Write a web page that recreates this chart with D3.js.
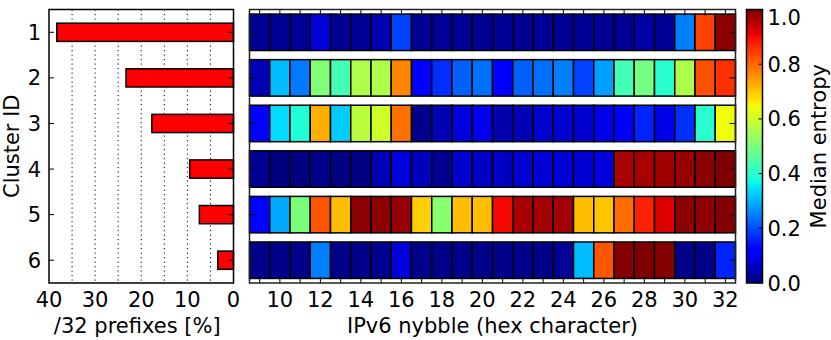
<!DOCTYPE html>
<html>
<head>
<meta charset="utf-8">
<script src="https://cdn.jsdelivr.net/npm/d3@7"></script>
<style>
  html, body { margin: 0; padding: 0; background: #fff; }
  svg { display: block; font-family: "DejaVu Sans", sans-serif; }
</style>
</head>
<body>
<svg id="chart" width="831" height="340"></svg>
<script>
// ---------------- data ----------------
const clusters = [1, 2, 3, 4, 5, 6];
const prefixShare = [38.3, 23.3, 17.7, 9.5, 7.4, 3.4];   // /32 prefixes [%]
const nybbles = [9, 10, 11, 12, 13, 14, 15, 16, 17, 18, 19, 20, 21, 22, 23, 24, 25, 26, 27, 28, 29, 30, 31, 32];
const entropyC1 = [0.02, 0.02, 0.02, 0.08, 0.02, 0.02, 0.045, 0.19, 0.02, 0.02, 0.02, 0.02, 0.02, 0.02, 0.02, 0.02, 0.02, 0.02, 0.02, 0.035, 0.02, 0.25, 0.84, 0.99];
const entropyC2 = [0.05, 0.31, 0.245, 0.505, 0.43, 0.56, 0.56, 0.767, 0.12, 0.17, 0.22, 0.235, 0.12, 0.22, 0.235, 0.25, 0.19, 0.28, 0.43, 0.49, 0.40, 0.56, 0.825, 0.86];
const entropyC3 = [0.115, 0.34, 0.39, 0.725, 0.325, 0.575, 0.60, 0.79, 0.01, 0.045, 0.08, 0.095, 0.04, 0.045, 0.07, 0.07, 0.07, 0.09, 0.105, 0.16, 0.09, 0.17, 0.40, 0.64];
const entropyC4 = [0.02, 0.0, 0.0, 0.01, 0.0, 0.005, 0.045, 0.08, 0.055, 0.015, 0.07, 0.06, 0.06, 0.07, 0.075, 0.075, 0.075, 0.08, 0.963, 0.965, 0.972, 0.979, 0.99, 1.0];
const entropyC5 = [0.115, 0.29, 0.50, 0.82, 0.71, 0.99, 0.99, 0.98, 0.69, 0.515, 0.71, 0.71, 0.90, 0.965, 0.968, 0.972, 0.71, 0.70, 0.795, 0.876, 0.92, 0.99, 0.985, 0.995];
const entropyC6 = [0.01, 0.01, 0.01, 0.25, 0.01, 0.01, 0.015, 0.08, 0.01, 0.01, 0.01, 0.01, 0.01, 0.01, 0.01, 0.02, 0.31, 0.82, 0.995, 1.0, 0.995, 0.01, 0.01, 0.16];
const entropyRows = [entropyC1, entropyC2, entropyC3, entropyC4, entropyC5, entropyC6];
const barTicks = [40, 30, 20, 10, 0];
const barGrid = [35, 30, 25, 20, 15, 10, 5];
const nybbleTicks = [10, 12, 14, 16, 18, 20, 22, 24, 26, 28, 30, 32];
const cbarTicks = [0.0, 0.2, 0.4, 0.6, 0.8, 1.0];

// ---------------- jet colormap ----------------
function interpSeg(segs, v) {
  for (let i = 0; i < segs.length - 1; i++) {
    const [x0, y0] = segs[i], [x1, y1] = segs[i + 1];
    if (v >= x0 && v <= x1) return y0 + (y1 - y0) * (v - x0) / (x1 - x0);
  }
  return segs[segs.length - 1][1];
}
const jetR = [[0, 0], [0.35, 0], [0.66, 1], [0.89, 1], [1, 0.5]];
const jetG = [[0, 0], [0.125, 0], [0.375, 1], [0.64, 1], [0.91, 0], [1, 0]];
const jetB = [[0, 0.5], [0.11, 1], [0.34, 1], [0.65, 0], [1, 0]];
function jet(v) {
  v = Math.max(0, Math.min(1, v));
  return d3.rgb(255 * interpSeg(jetR, v), 255 * interpSeg(jetG, v), 255 * interpSeg(jetB, v)).toString();
}

// ---------------- layout ----------------
const svg = d3.select("#chart");
const FS = 21;
const yTop = 9.5, yBot = 283;
const L = { x0: 49, x1: 233.5 };
const H = { x0: 249.5, x1: 735.5 };
const C = { x0: 746.5, x1: 762.5 };

const y = d3.scaleLinear().domain([0.5, 6.5]).range([yTop, yBot]);
const band = y(2) - y(1);
const xBar = d3.scaleLinear().domain([40, 0]).range([L.x0, L.x1]);
const xHeat = d3.scaleLinear().domain([8.5, 32.5]).range([H.x0, H.x1]);
const colW = xHeat(1) - xHeat(0);
const yC = d3.scaleLinear().domain([0, 1]).range([yBot, yTop]);

// ---------------- left bar chart ----------------
const gL = svg.append("g");
gL.selectAll("line.grid").data(barGrid).join("line")
  .attr("x1", d => xBar(d)).attr("x2", d => xBar(d))
  .attr("y1", yTop).attr("y2", yBot)
  .attr("stroke", "#000").attr("stroke-width", 1).attr("stroke-dasharray", "1.2,3.3");
gL.selectAll("rect.bar").data(clusters).join("rect")
  .attr("x", (d, i) => xBar(prefixShare[i]))
  .attr("width", (d, i) => xBar(0) - xBar(prefixShare[i]))
  .attr("y", d => y(d) - band * 0.2)
  .attr("height", band * 0.4)
  .attr("fill", "#ff0000").attr("stroke", "#000").attr("stroke-width", 1.5);
gL.selectAll("line.ytl").data(clusters).join("line")
  .attr("x1", L.x0).attr("x2", L.x0 + 5).attr("y1", d => y(d)).attr("y2", d => y(d))
  .attr("stroke", "#000").attr("stroke-width", 1);
gL.selectAll("line.ytr").data(clusters).join("line")
  .attr("x1", L.x1 - 5).attr("x2", L.x1).attr("y1", d => y(d)).attr("y2", d => y(d))
  .attr("stroke", "#000").attr("stroke-width", 1);
gL.append("rect").attr("x", L.x0).attr("y", yTop).attr("width", L.x1 - L.x0).attr("height", yBot - yTop)
  .attr("fill", "none").attr("stroke", "#000").attr("stroke-width", 1.5);
gL.selectAll("text.yl").data(clusters).join("text")
  .attr("x", L.x0 - 8).attr("y", d => y(d)).attr("dy", "0.36em")
  .attr("text-anchor", "end").attr("font-size", FS).text(d => d);
gL.selectAll("text.xl").data(barTicks).join("text")
  .attr("x", d => xBar(d)).attr("y", 306.5)
  .attr("text-anchor", "middle").attr("font-size", FS).text(d => d);
gL.append("text").attr("x", (L.x0 + L.x1) / 2 - 4).attr("y", 333)
  .attr("text-anchor", "middle").attr("font-size", FS).text("/32 prefixes [%]");
gL.append("text").attr("transform", `translate(18.5,${(yTop + yBot) / 2}) rotate(-90)`)
  .attr("text-anchor", "middle").attr("font-size", FS).text("Cluster ID");

// ---------------- heatmap ----------------
const gH = svg.append("g");
const cells = [];
entropyRows.forEach((row, r) => row.forEach((v, c) => cells.push({ cluster: clusters[r], nyb: nybbles[c], v })));
gH.selectAll("rect.cell").data(cells).join("rect")
  .attr("x", d => xHeat(d.nyb) - colW / 2)
  .attr("width", colW)
  .attr("y", d => y(d.cluster) - band * 0.4)
  .attr("height", band * 0.8)
  .attr("fill", d => jet(d.v)).attr("stroke", "#000").attr("stroke-width", 1.5);
gH.selectAll("line.xtt").data(nybbles).join("line")
  .attr("x1", d => xHeat(d)).attr("x2", d => xHeat(d)).attr("y1", yTop).attr("y2", yTop + 6)
  .attr("stroke", "#000").attr("stroke-width", 1);
gH.selectAll("line.xtb").data(nybbles).join("line")
  .attr("x1", d => xHeat(d)).attr("x2", d => xHeat(d)).attr("y1", yBot - 6).attr("y2", yBot)
  .attr("stroke", "#000").attr("stroke-width", 1);
gH.selectAll("line.ytl").data(clusters).join("line")
  .attr("x1", H.x0).attr("x2", H.x0 + 6).attr("y1", d => y(d)).attr("y2", d => y(d))
  .attr("stroke", "#000").attr("stroke-width", 1);
gH.selectAll("line.ytr").data(clusters).join("line")
  .attr("x1", H.x1 - 6).attr("x2", H.x1).attr("y1", d => y(d)).attr("y2", d => y(d))
  .attr("stroke", "#000").attr("stroke-width", 1);
gH.append("rect").attr("x", H.x0).attr("y", yTop).attr("width", H.x1 - H.x0).attr("height", yBot - yTop)
  .attr("fill", "none").attr("stroke", "#222").attr("stroke-width", 1.5);
gH.selectAll("text.xl").data(nybbleTicks).join("text")
  .attr("x", d => xHeat(d)).attr("y", 306.5)
  .attr("text-anchor", "middle").attr("font-size", FS).text(d => d);
gH.append("text").attr("x", (H.x0 + H.x1) / 2).attr("y", 333)
  .attr("text-anchor", "middle").attr("font-size", FS).text("IPv6 nybble (hex character)");

// ---------------- colorbar ----------------
const defs = svg.append("defs");
const grad = defs.append("linearGradient").attr("id", "jetgrad")
  .attr("x1", "0").attr("y1", "1").attr("x2", "0").attr("y2", "0");
const stops = d3.range(0, 1.0001, 0.01);
grad.selectAll("stop").data(stops).join("stop")
  .attr("offset", d => d).attr("stop-color", d => jet(d));
const gC = svg.append("g");
gC.append("rect").attr("x", C.x0).attr("y", yTop).attr("width", C.x1 - C.x0).attr("height", yBot - yTop)
  .attr("fill", "url(#jetgrad)").attr("stroke", "#000").attr("stroke-width", 1.5);
gC.selectAll("line.ct").data(cbarTicks).join("line")
  .attr("x1", C.x1 - 4).attr("x2", C.x1).attr("y1", d => yC(d)).attr("y2", d => yC(d))
  .attr("stroke", "#000").attr("stroke-width", 1);
gC.selectAll("text.cl").data(cbarTicks).join("text")
  .attr("x", C.x1 + 5).attr("y", d => Math.max(yC(d), yTop + 8)).attr("dy", "0.36em")
  .attr("font-size", FS).text(d => d.toFixed(1));
gC.append("text").attr("transform", `translate(826,${(yTop + yBot) / 2}) rotate(-90)`)
  .attr("text-anchor", "middle").attr("font-size", FS).text("Median entropy");
</script>
</body>
</html>
